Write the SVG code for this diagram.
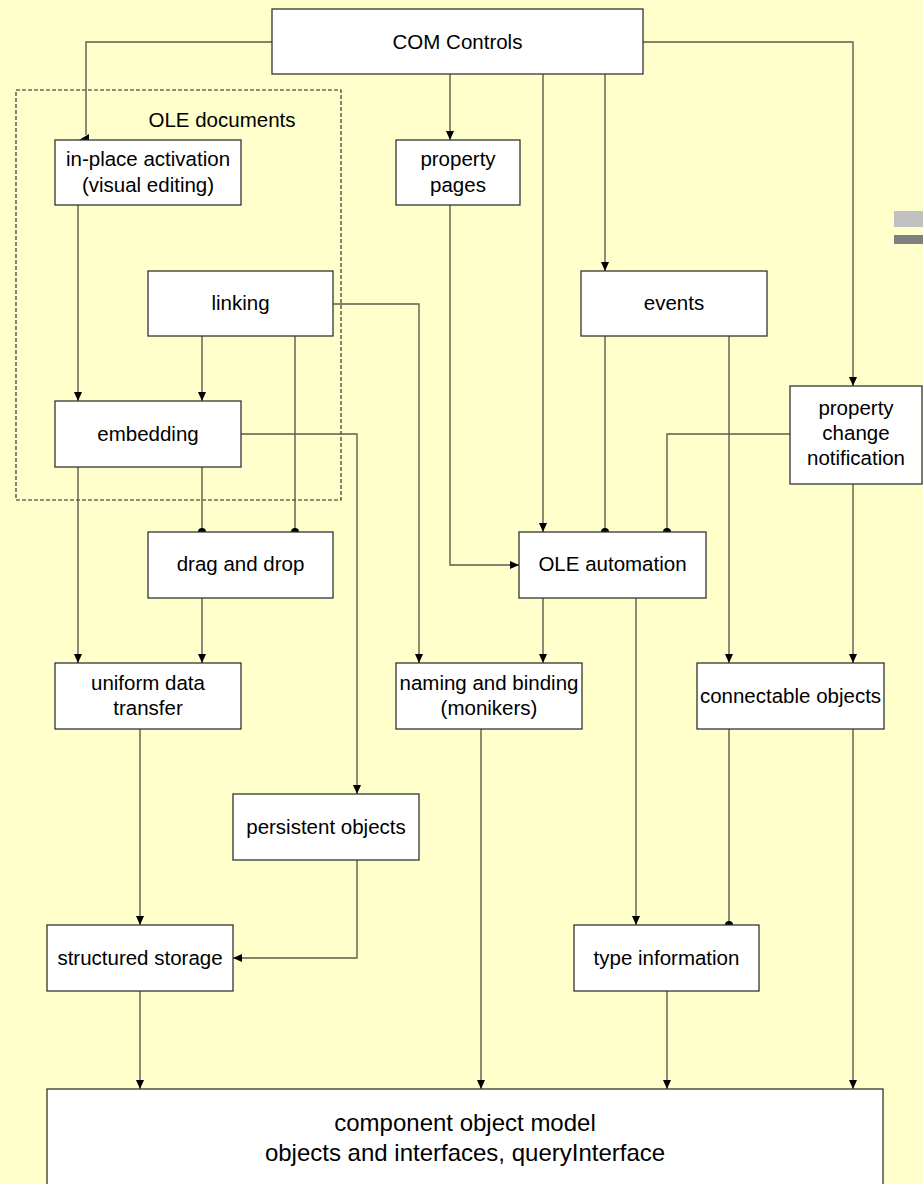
<svg xmlns="http://www.w3.org/2000/svg" width="923" height="1184" viewBox="0 0 923 1184">
<defs>
<style>
.bg{fill:#FFFFCC}
.box{fill:#FFFFFF;stroke:#333333;stroke-width:1.3}
.grp{fill:none;stroke:#222222;stroke-width:1.1;stroke-dasharray:4,2}
.t{font-family:"Liberation Sans",Arial,sans-serif;font-size:20.5px;fill:#000;text-anchor:middle}
.tb{font-family:"Liberation Sans",Arial,sans-serif;font-size:24px;fill:#000;text-anchor:middle}
.c{fill:none;stroke:#5c5c4c;stroke-width:1.4}
.a{marker-end:url(#arr)}
.d{marker-end:url(#dot)}
</style>
<marker id="arr" viewBox="0 0 9 8" refX="9" refY="4" markerWidth="9" markerHeight="8" orient="auto" markerUnits="userSpaceOnUse">
<path d="M0,0 L9,4 L0,8 z" fill="#000"/>
</marker>
<marker id="dot" viewBox="-5 -5 10 10" refX="0" refY="0" markerWidth="10" markerHeight="10" orient="auto" markerUnits="userSpaceOnUse">
<circle cx="0" cy="0" r="4" fill="#000"/>
</marker>
</defs>
<rect class="bg" x="0" y="0" width="923" height="1184"/>
<rect x="894" y="211" width="29" height="16" fill="#C0C0C0"/>
<rect x="894" y="235" width="29" height="9" fill="#808080"/>

<g id="ole-documents">
<rect class="grp" x="16" y="90" width="325" height="410"/>
<text class="t" x="222" y="127">OLE documents</text>
</g>

<g id="connectors">
<path class="c" d="M272,42 H86 V135"/>
<polygon points="79,140 89,134 89,140" fill="#000"/>
<path class="c a" d="M450,74 V140"/>
<path class="c a" d="M543,74 V532"/>
<path class="c a" d="M605,74 V271"/>
<path class="c a" d="M643,42 H853 V386"/>
<path class="c a" d="M78,205 V401"/>
<path class="c a" d="M202,336 V401"/>
<path class="c d" d="M295,336 V532"/>
<path class="c a" d="M333,304 H419 V663"/>
<path class="c d" d="M202,467 V532"/>
<path class="c a" d="M78,467 V663"/>
<path class="c a" d="M241,434 H357 V794"/>
<path class="c a" d="M450,205 V565 H519"/>
<path class="c d" d="M605,336 V532"/>
<path class="c a" d="M729,336 V663"/>
<path class="c d" d="M790,434 H667 V532"/>
<path class="c a" d="M853,484 V663"/>
<path class="c a" d="M202,598 V663"/>
<path class="c a" d="M543,598 V663"/>
<path class="c a" d="M636,598 V925"/>
<path class="c a" d="M140,729 V925"/>
<path class="c a" d="M357,860 V958 H233"/>
<path class="c a" d="M481,729 V1089"/>
<path class="c d" d="M729,729 V925"/>
<path class="c a" d="M853,729 V1089"/>
<path class="c a" d="M140,991 V1089"/>
<path class="c a" d="M667,991 V1089"/>
</g>

<g id="com-controls">
<rect class="box" x="272" y="9" width="371" height="65"/>
<text class="t" x="457.5" y="49">COM Controls</text>
</g>
<g id="in-place-activation">
<rect class="box" x="55" y="140" width="186" height="65"/>
<text class="t" x="148" y="166">in-place activation</text>
<text class="t" x="148" y="192">(visual editing)</text>
</g>
<g id="property-pages">
<rect class="box" x="396" y="140" width="124" height="65"/>
<text class="t" x="458" y="166">property</text>
<text class="t" x="458" y="192">pages</text>
</g>
<g id="linking">
<rect class="box" x="148" y="271" width="185" height="65"/>
<text class="t" x="240.5" y="310">linking</text>
</g>
<g id="events">
<rect class="box" x="581" y="271" width="186" height="65"/>
<text class="t" x="674" y="310">events</text>
</g>
<g id="embedding">
<rect class="box" x="55" y="401" width="186" height="66"/>
<text class="t" x="148" y="441">embedding</text>
</g>
<g id="property-change-notification">
<rect class="box" x="790" y="386" width="132" height="98"/>
<text class="t" x="856" y="415">property</text>
<text class="t" x="856" y="440">change</text>
<text class="t" x="856" y="465">notification</text>
</g>
<g id="drag-and-drop">
<rect class="box" x="148" y="532" width="185" height="66"/>
<text class="t" x="240.5" y="571">drag and drop</text>
</g>
<g id="ole-automation">
<rect class="box" x="519" y="532" width="187" height="66"/>
<text class="t" x="612.5" y="571">OLE automation</text>
</g>
<g id="uniform-data-transfer">
<rect class="box" x="55" y="663" width="186" height="66"/>
<text class="t" x="148" y="690">uniform data</text>
<text class="t" x="148" y="715">transfer</text>
</g>
<g id="naming-and-binding">
<rect class="box" x="396" y="663" width="186" height="66"/>
<text class="t" x="489" y="690">naming and binding</text>
<text class="t" x="489" y="715">(monikers)</text>
</g>
<g id="connectable-objects">
<rect class="box" x="697" y="663" width="187" height="66"/>
<text class="t" x="790.5" y="703">connectable objects</text>
</g>
<g id="persistent-objects">
<rect class="box" x="233" y="794" width="186" height="66"/>
<text class="t" x="326" y="834">persistent objects</text>
</g>
<g id="structured-storage">
<rect class="box" x="47" y="925" width="186" height="66"/>
<text class="t" x="140" y="965">structured storage</text>
</g>
<g id="type-information">
<rect class="box" x="574" y="925" width="185" height="66"/>
<text class="t" x="666.5" y="965">type information</text>
</g>
<g id="component-object-model">
<rect class="box" x="47" y="1089" width="836" height="130"/>
<text class="tb" x="465" y="1131">component object model</text>
<text class="tb" x="465" y="1161">objects and interfaces, queryInterface</text>
</g>
</svg>
